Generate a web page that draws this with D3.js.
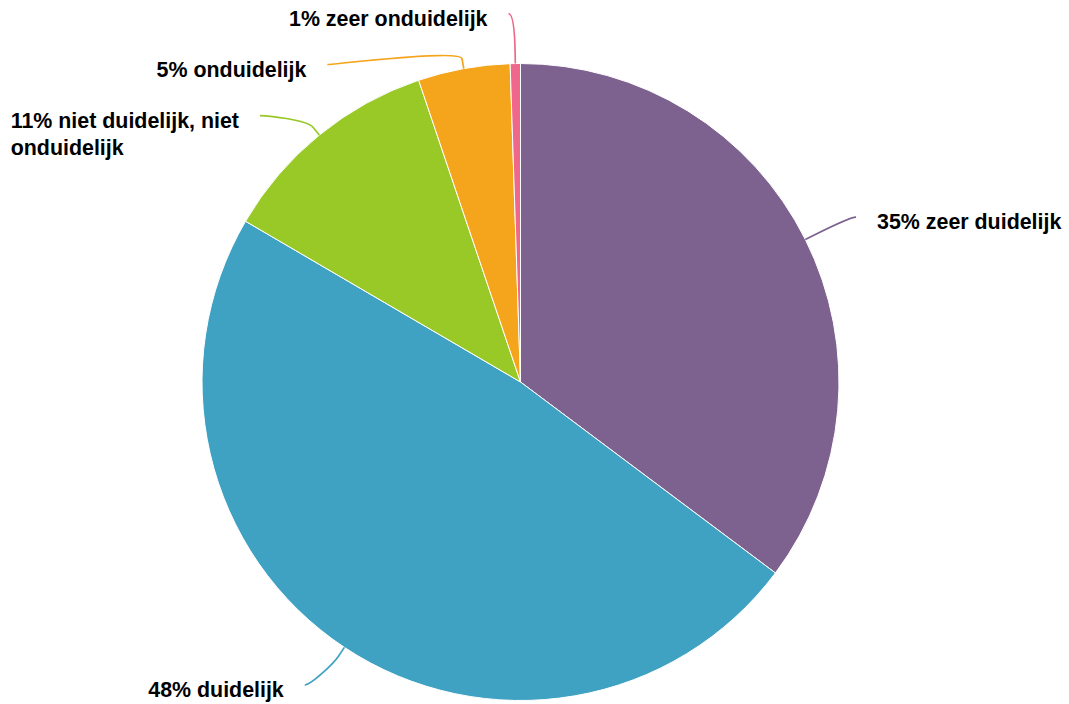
<!DOCTYPE html>
<html><head><meta charset="utf-8">
<script src="https://cdn.jsdelivr.net/npm/d3@7"></script>
<style>body{margin:0;background:#fff;} svg{display:block;}</style>
</head><body><svg id="c" width="1069" height="704"></svg>
<script>
const categories = ["zeer duidelijk", "duidelijk", "niet duidelijk, niet onduidelijk", "onduidelijk", "zeer onduidelijk"];
const values = [68, 93, 22, 9, 1];
const colors = ["#7d618e", "#40a2c2", "#98c926", "#f4a51b", "#ef688c"];

const W = 1069, H = 704, cx = 520.5, cy = 382, r = 318.5;
const labelDist = 50, gap = 51, pad = 21, lineH = 27, fontSize = 21.4;
const svg = d3.select("#c");
const total = d3.sum(values);
const pie = d3.pie().sort(null).value(d => d)(values);
const arc = d3.arc().innerRadius(0).outerRadius(r);
const g = svg.append("g").attr("transform", `translate(${cx},${cy})`);

g.selectAll("path.slice").data(pie).join("path")
  .attr("class", "slice")
  .attr("d", arc)
  .attr("fill", (d, i) => colors[i])
  .attr("stroke", "#fff").attr("stroke-width", 1).attr("stroke-linejoin", "round");

// label layout
const R = r + labelDist;
const labels = pie.map((d, i) => {
  const mid = (d.startAngle + d.endAngle) / 2;
  return { i, mid, left: mid > Math.PI, y: -R * Math.cos(mid),
           text: Math.round(d.value / total * 100) + "% " + categories[i] };
});
[true, false].forEach(side => {
  const arr = labels.filter(l => l.left === side).sort((a, b) => a.y - b.y);
  for (let k = 1; k < arr.length; k++) arr[k].y = Math.max(arr[k].y, arr[k - 1].y + gap);
  const maxY = H - cy - 19;
  for (let k = arr.length - 1; k >= 0; k--) {
    const lim = k === arr.length - 1 ? maxY : arr[k + 1].y - gap;
    arr[k].y = Math.min(arr[k].y, lim);
  }
});

const lg = g.append("g");
labels.forEach(l => {
  const s = l.left ? -1 : 1;
  const gx = s * Math.sqrt(Math.max(0, R * R - l.y * l.y));
  const mx = gx + s * 6;
  const sin = Math.sin(l.mid), cos = Math.cos(l.mid);
  const p4 = [r * sin, -r * cos];
  const p2 = [(r + 10) * sin, -(r + 10) * cos];
  const c2 = [2 * p2[0] - p4[0], 2 * p2[1] - p4[1]];
  lg.append("path")
    .attr("d", `M${mx},${l.y}C${gx},${l.y} ${c2[0]},${c2[1]} ${p2[0]},${p2[1]}L${p4[0]},${p4[1]}`)
    .attr("fill", "none").attr("stroke", colors[l.i]).attr("stroke-width", 1.7);

  // text with wrapping
  const t = lg.append("text")
    .attr("font-family", "'Liberation Sans', Arial, Helvetica, sans-serif")
    .attr("font-weight", "bold").attr("font-size", fontSize).attr("fill", "#000");
  const edge = l.left ? (mx - pad) : (mx + pad);
  const avail = l.left ? (edge + cx) : (W - cx - edge);
  const words = l.text.split(" ");
  const lines = [];
  let cur = "";
  const probe = t.append("tspan");
  words.forEach(w => {
    const tryS = cur ? cur + " " + w : w;
    probe.text(tryS);
    if (probe.node().getComputedTextLength() > avail && cur) { lines.push(cur); cur = w; }
    else cur = tryS;
  });
  lines.push(cur);
  let maxW = 0;
  lines.forEach(ln => { probe.text(ln); maxW = Math.max(maxW, probe.node().getComputedTextLength()); });
  probe.remove();
  const x0 = l.left ? edge - maxW : edge;
  lines.forEach((ln, k) => {
    t.append("tspan").attr("x", x0).attr("y", l.y + 12 + k * lineH).text(ln);
  });
});
</script>
</body></html>
